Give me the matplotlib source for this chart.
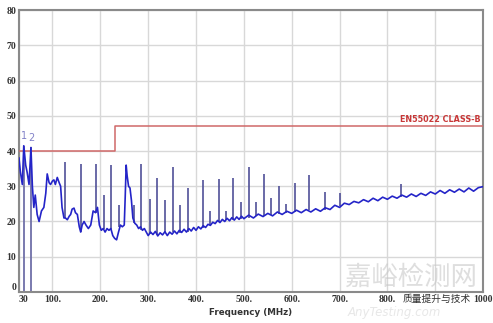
import numpy as np
import matplotlib
matplotlib.use("Agg")
import matplotlib.pyplot as plt

freq_mhz = [30, 33, 37, 40, 44, 47, 51, 55, 58, 61, 64, 68, 72, 77, 82, 86, 89, 93, 96,
            100, 103, 106, 110, 114, 117, 120, 124, 127, 131, 135, 138, 141, 145, 148,
            152, 156, 159, 162, 166, 170, 175, 180, 185, 190, 194, 198, 202, 206, 210,
            214, 218, 222, 226, 230, 234, 238, 242, 246, 250, 252, 254, 256, 259, 262,
            265, 268, 272, 276, 280, 284, 288, 292, 296,
            300, 305, 310, 315, 320, 325, 330, 335, 340, 345, 350, 355, 360, 365, 370, 375,
            380, 385, 390, 395, 400, 405, 410, 415, 420, 425, 430, 435, 440, 445, 450, 455,
            460, 465, 470, 475, 480, 485, 490, 495, 500,
            510, 520, 530, 540, 550, 560, 570, 580, 590,
            600, 610, 620, 630, 640, 650, 660, 670, 680, 690, 700, 710, 720, 730, 740,
            750, 760, 770, 780, 790, 800, 810, 820, 830, 840, 850, 860, 870, 880, 890,
            900, 910, 920, 930, 940, 950, 960, 970, 980, 990, 1000]
level_dbuv = [38, 34, 30.5, 41.5, 36, 34, 30.5, 41, 30, 24, 27.5, 22, 20, 23, 24, 28, 33.5, 31, 30.5,
              31.5, 31.8, 30.5, 32.5, 31, 30, 24, 21, 21, 20.5, 21.5, 22, 23.5, 23.8, 22.5,
              22, 18.5, 17, 19, 20, 19, 18, 19, 23, 22.5, 24, 19, 17.5, 18, 17,
              18, 17.5, 18, 16, 15.2, 14.8, 17, 19, 18.5, 19, 27, 36, 33, 30, 29.5,
              26, 21, 19.5, 19, 18, 18.5, 17.5, 18, 17,
              16.0, 17.0, 16.3, 17.2, 15.9, 16.8, 16.2, 17.1, 16.0, 17.0, 16.4, 17.3, 16.5, 17.5, 16.9, 17.8,
              17.0, 18.0, 17.3, 18.3, 17.5, 18.5, 17.9, 18.8, 18.3, 19.2, 18.9, 19.8, 19.4, 20.3, 19.7, 20.6,
              20.0, 20.9, 20.2, 21.1, 20.4, 21.3, 20.6, 21.5, 20.8,
              21.8, 21.0, 22.1, 21.4, 22.3, 21.6, 22.7, 22.0, 22.9,
              22.3, 23.2, 22.5, 23.4, 22.7, 23.6, 22.9, 23.9, 23.4, 24.6, 24.0, 25.2, 24.8, 25.7, 25.3,
              26.2, 25.6, 26.6, 25.9, 26.9, 26.3, 27.2, 26.6, 27.5, 26.9, 27.8, 27.1, 28.0, 27.4, 28.4,
              27.8, 28.8, 28.0, 29.0, 28.3, 29.2, 28.4, 29.5, 28.6, 29.6, 29.9]

# narrow harmonic spikes: frequency, top and foot level
spike_freq = [127, 160, 190, 207, 222, 240, 271, 286, 303, 318, 335, 351, 367, 383, 414, 429,
              447, 462, 477, 494, 510, 526, 541, 556, 573, 589, 606, 637, 669, 700, 828]
spike_top = [37, 36.2, 36.2, 27.5, 36, 24.7, 24.7, 36.2, 26.5, 32.2, 26, 35.5, 24.7, 29.6, 31.8, 23,
             32, 23, 32.4, 25.5, 35.5, 25.4, 33.6, 26.7, 30, 25, 30.8, 33.2, 28.5, 28.2, 30.5]
spike_base = [21, 17, 22.5, 18, 18, 18.5, 19.5, 17.5, 16.5, 16.2, 16.6, 16.9, 16.6, 17.0, 18.2, 18.9,
              19.8, 20.4, 20.3, 20.6, 21.0, 21.5, 21.6, 21.8, 22.1, 22.4, 22.8, 23.2, 23.4, 24.3, 27.0]

# marker drop lines
marker_freq = [40, 55]
marker_level = [41.5, 41]
marker_names = ["1", "2"]

# EN55022 class B limit
limit_freq = [30, 230, 230, 1000]
limit_level = [40, 40, 47, 47]

x_ticks = [30, 100, 200, 300, 400, 500, 600, 700, 800, 900, 1000]
x_ticklabels = ["30", "100.", "200.", "300.", "400.", "500.", "600.", "700.", "800.", "", "1000"]
y_ticks = [0, 10, 20, 30, 40, 50, 60, 70, 80]

fig = plt.figure(figsize=(4.93, 3.23), dpi=100)
ax = fig.add_axes([0.0385, 0.096, 0.9415, 0.873])

ax.plot(limit_freq, limit_level, color="#d06868", lw=1.1, zorder=3)
ax.vlines(marker_freq, 0, marker_level, color="#7070a8", lw=1.3, zorder=2)
ax.vlines(spike_freq, spike_base, spike_top, color="#505098", lw=1.2, zorder=2)
ax.plot(freq_mhz, level_dbuv, color="#2424c8", lw=1.2, zorder=4)

for f, lv, name in zip(marker_freq, marker_level, marker_names):
    ax.text(f, lv + 1.3, name, color="#8080c8", fontsize=7, ha="center", va="bottom")

ax.text(995, 47.6, "EN55022 CLASS-B", color="#c83838", fontsize=5.8, fontweight="bold",
        ha="right", va="bottom")

ax.set_xlim(30, 1000)
ax.set_ylim(0, 80)
ax.set_xticks(x_ticks)
ax.set_xticklabels(x_ticklabels)
ax.set_yticks(y_ticks)
ax.tick_params(length=0, labelsize=7, labelcolor="#333333", pad=2)
for lab in ax.get_xticklabels() + ax.get_yticklabels():
    lab.set_family("Liberation Serif")
    lab.set_fontweight("bold")
ax.get_xticklabels()[0].set_horizontalalignment("left")
ax.get_yticklabels()[0].set_verticalalignment("bottom")
ax.grid(True, color="#d8d8d8", lw=1)
ax.set_axisbelow(True)
for sp in ax.spines.values():
    sp.set_color("#8a8a8a")
    sp.set_linewidth(1.5)

ax.set_xlabel("Frequency (MHz)", fontsize=6.3, fontweight="bold", color="#333333", labelpad=3)

# watermark
fig.text(0.834, 0.142, "嘉峪检测网", family=["Noto Sans CJK SC", "DejaVu Sans"], fontsize=19,
         color="#c8c8c8", alpha=0.6, ha="center", va="center")
fig.text(0.80, 0.032, "AnyTesting.com", fontsize=8.5, style="italic", color="#d8d8d8",
         alpha=0.6, ha="center", va="center")
fig.text(0.886, 0.074, "质量提升与技术", family=["Noto Sans CJK SC", "DejaVu Sans"], fontsize=7,
         color="#333333", ha="center", va="center")

fig.savefig("out.png", dpi=100)
